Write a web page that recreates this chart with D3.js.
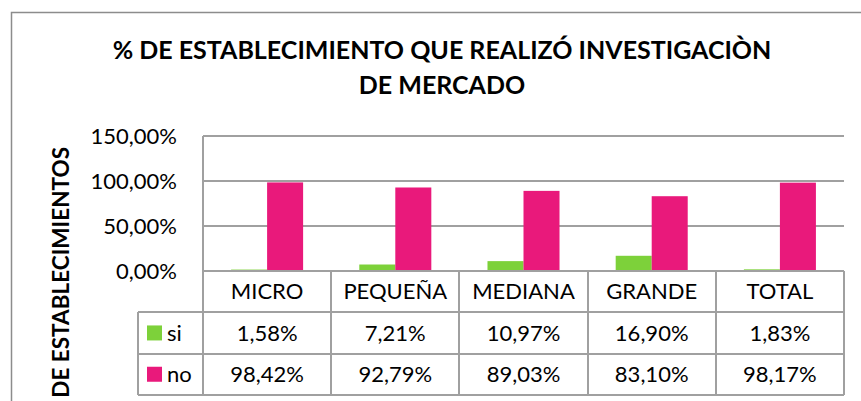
<!DOCTYPE html>
<html>
<head>
<meta charset="utf-8">
<script src="https://d3js.org/d3.v7.min.js"></script>
<style>
  body { margin:0; background:#fff; }
  text { font-family: Lato, "Open Sans", sans-serif; fill:#000; }
  .title { font-size: 25px; font-weight: bold; }
  .ytitle { font-size: 22.5px; font-weight: bold; }
  .tick_lbl { font-size: 22px; }
  .cell { font-size: 22px; }
  .grid, .tbl { stroke:#a0a0a0; stroke-width:2; shape-rendering: crispEdges; }
</style>
</head>
<body>
<script>
// chart values
var categories = ["MICRO", "PEQUEÑA", "MEDIANA", "GRANDE", "TOTAL"];
var seriesNames = ["si", "no"];
var siValues = [1.58, 7.21, 10.97, 16.90, 1.83];
var noValues = [98.42, 92.79, 89.03, 83.10, 98.17];
var yTicks = [0, 50, 100, 150];
var colors = {si: "#7dd13a", no: "#e9197b"};

var w = 861, h = 401;
var svg = d3.select("body").append("svg")
    .attr("width", w)
    .attr("height", h);

var esLocale = d3.formatLocale({decimal: ",", thousands: ".", grouping: [3], currency: ["", "€"]});
var f = esLocale.format(".2f");
var pct = function(d) { return f(d) + "%"; };

// frame
svg.append("path")
    .attr("d", "M11.5," + h + "V12.5H" + w)
    .attr("fill", "none")
    .attr("stroke", "#8c8c8c")
    .attr("stroke-width", 1.5);

// title
var g_title = svg.append("g");
g_title.append("text").attr("class", "title")
    .attr("x", 442).attr("y", 59).attr("text-anchor", "middle")
    .text("% DE ESTABLECIMIENTO QUE REALIZÓ INVESTIGACIÒN");
g_title.append("text").attr("class", "title")
    .attr("x", 442).attr("y", 94).attr("text-anchor", "middle")
    .text("DE MERCADO");

// y title
svg.append("text").attr("class", "ytitle")
    .attr("transform", "translate(69,147) rotate(-90)")
    .attr("text-anchor", "end")
    .text("DE ESTABLECIMIENTOS");

var plotLeft = 203, plotRight = 844, plotTop = 136, plotBottom = 271;
var rowH = 41.3;
var tableLeft = 138;

var x = d3.scaleBand()
    .domain(categories)
    .range([plotLeft, plotRight]);

var xs = d3.scaleBand()
    .domain(seriesNames)
    .range([0, x.bandwidth()])
    .paddingOuter(0.78);

var y = d3.scaleLinear()
    .domain([0, 150])
    .range([plotBottom, plotTop]);

// gridlines
svg.append("g").selectAll("line")
    .data(yTicks.filter(function(d) { return d > 0; }))
    .enter().append("line")
    .attr("class", "grid")
    .attr("x1", plotLeft).attr("x2", plotRight)
    .attr("y1", function(d) { return Math.round(y(d)); })
    .attr("y2", function(d) { return Math.round(y(d)); });

// y axis labels
var yAxis = d3.axisLeft(y).tickValues(yTicks).tickFormat(pct).tickSize(0).tickPadding(26);
var g_y = svg.append("g")
    .attr("transform", "translate(" + plotLeft + ",0)")
    .call(yAxis);
g_y.select(".domain").remove();
g_y.selectAll("text")
    .attr("class", "tick_lbl")
    .style("font-family", null).style("font-size", null)
    .attr("dy", "0.35em");

// bars
var rows = categories.map(function(c, i) { return {cat: c, si: siValues[i], no: noValues[i]}; });
var g_bars = svg.append("g");
g_bars.selectAll("g")
    .data(rows)
    .enter().append("g")
    .attr("transform", function(d) { return "translate(" + x(d.cat) + ",0)"; })
    .selectAll("rect")
    .data(function(d) { return seriesNames.map(function(s) { return {s: s, v: d[s]}; }); })
    .enter().append("rect")
    .attr("x", function(d) { return xs(d.s); })
    .attr("y", function(d) { return y(d.v); })
    .attr("width", xs.bandwidth())
    .attr("height", function(d) { return plotBottom - y(d.v); })
    .attr("fill", function(d) { return colors[d.s]; });

// data table
var g_tbl = svg.append("g");
var rowY = [plotBottom, plotBottom + rowH, plotBottom + 2 * rowH, plotBottom + 3 * rowH];
// horizontal lines
g_tbl.selectAll("line.h")
    .data(rowY)
    .enter().append("line")
    .attr("class", "tbl")
    .attr("x1", function(d, i) { return i == 0 ? plotLeft : tableLeft; })
    .attr("x2", plotRight)
    .attr("y1", function(d) { return Math.round(d); })
    .attr("y2", function(d) { return Math.round(d); });
// vertical lines
var colX = categories.map(function(c) { return x(c); }).concat([plotRight]);
g_tbl.selectAll("line.v")
    .data(colX)
    .enter().append("line")
    .attr("class", "tbl")
    .attr("x1", function(d) { return Math.round(d); })
    .attr("x2", function(d) { return Math.round(d); })
    .attr("y1", function(d, i) { return i == 0 ? plotTop : plotBottom; })
    .attr("y2", Math.round(rowY[3]));
g_tbl.append("line")
    .attr("class", "tbl")
    .attr("x1", tableLeft).attr("x2", tableLeft)
    .attr("y1", Math.round(rowY[1])).attr("y2", Math.round(rowY[3]));

// category header
g_tbl.selectAll("text.cat")
    .data(categories)
    .enter().append("text")
    .attr("class", "cell")
    .attr("x", function(d) { return x(d) + x.bandwidth() / 2; })
    .attr("y", rowY[0] + rowH / 2)
    .attr("dy", "0.35em")
    .attr("text-anchor", "middle")
    .text(function(d) { return d; });

// series rows
[siValues, noValues].forEach(function(vals, r) {
  var yc = rowY[r + 1] + rowH / 2;
  g_tbl.append("rect")
      .attr("x", 147).attr("y", yc - 7.5)
      .attr("width", 15).attr("height", 15)
      .attr("fill", colors[seriesNames[r]]);
  g_tbl.append("text")
      .attr("class", "cell")
      .attr("x", 167).attr("y", yc).attr("dy", "0.35em")
      .text(seriesNames[r]);
  g_tbl.selectAll("text.v" + r)
      .data(vals)
      .enter().append("text")
      .attr("class", "cell")
      .attr("x", function(d, i) { return x(categories[i]) + x.bandwidth() / 2; })
      .attr("y", yc)
      .attr("dy", "0.35em")
      .attr("text-anchor", "middle")
      .text(pct);
});
</script>
</body>
</html>
